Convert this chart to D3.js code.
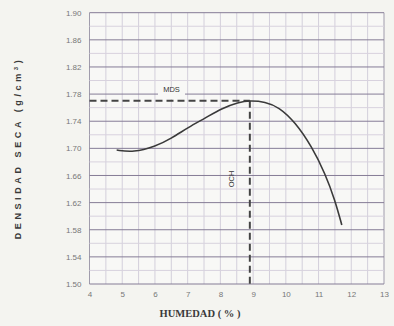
<!DOCTYPE html>
<html><head><meta charset="utf-8">
<script src="https://cdn.jsdelivr.net/npm/d3@7"></script>
<style>body{margin:0;background:#f4f4f0;}svg{display:block;}</style>
</head><body>
<svg id="c" width="394" height="326"></svg>
<script>
const humedad = [4.83, 5.34, 6.0, 6.51, 7.02, 7.53, 8.04, 8.55, 8.9, 9.37, 9.78, 10.28, 10.8, 11.2, 11.5, 11.71];
const densidad = [1.6975, 1.694, 1.7024, 1.7148, 1.731, 1.7444, 1.759, 1.768, 1.7705, 1.7687, 1.761, 1.739, 1.702, 1.663, 1.624, 1.587];
const xTicks = [4,5,6,7,8,9,10,11,12,13];
const yTicks = [1.50,1.54,1.58,1.62,1.66,1.70,1.74,1.78,1.82,1.86,1.90];
const mds = 1.770, och = 8.9;

const svg = d3.select("#c");
const x = d3.scaleLinear().domain([4,13]).range([89.5,384]);
const y = d3.scaleLinear().domain([1.50,1.90]).range([284,12.7]);

svg.append("rect").attr("width",394).attr("height",326).attr("fill","#f4f4f0");
svg.append("rect").attr("x",x(4)).attr("y",y(1.9)).attr("width",x(13)-x(4)).attr("height",y(1.5)-y(1.9)).attr("fill","#f8f8f6");

const g = svg.append("g");
d3.range(4,13.01,0.5).forEach(v=>{
  g.append("line").attr("x1",x(v)).attr("x2",x(v)).attr("y1",y(1.9)).attr("y2",y(1.5))
   .attr("stroke", (v===4||v===13)?"#a09cac":"#d3cfdb").attr("stroke-width",1);
});
d3.range(1.52,1.90,0.04).forEach(v=>{
  g.append("line").attr("x1",x(4)).attr("x2",x(13)).attr("y1",y(v)).attr("y2",y(v))
   .attr("stroke","#d8d2de").attr("stroke-width",1);
});
yTicks.forEach(v=>{
  g.append("line").attr("x1",x(4)).attr("x2",x(13)).attr("y1",y(v)).attr("y2",y(v))
   .attr("stroke","#857c96").attr("stroke-width",1);
});

const yAxis = d3.axisLeft(y).tickValues(yTicks).tickFormat(d3.format(".2f")).tickSize(0).tickPadding(8);
const ya = svg.append("g").attr("transform",`translate(${x(4)},0)`).call(yAxis);
ya.select(".domain").remove();
ya.selectAll("text").attr("fill","#777").style("font-family","Liberation Sans, Arial").style("font-size","8px");
const xAxis = d3.axisBottom(x).tickValues(xTicks).tickFormat(d3.format("d")).tickSize(0).tickPadding(7);
const xa = svg.append("g").attr("transform",`translate(0,${y(1.5)})`).call(xAxis);
xa.select(".domain").remove();
xa.selectAll("text").attr("fill","#777").style("font-family","Liberation Sans, Arial").style("font-size","8px");

svg.append("rect").attr("x",158).attr("y",y(1.78)-6).attr("width",27).attr("height",11).attr("fill","#f8f8f6");
svg.append("text").attr("x",171.5).attr("y",y(1.78)-2.5).attr("text-anchor","middle")
  .attr("fill","#333").style("font-family","Liberation Sans, Arial").style("font-size","7.5px").text("MDS");

svg.append("line").attr("x1",x(4)).attr("x2",x(och)).attr("y1",y(mds)).attr("y2",y(mds))
  .attr("stroke","#444").attr("stroke-width",2).attr("stroke-dasharray","7,4");
svg.append("line").attr("x1",x(och)).attr("x2",x(och)).attr("y1",y(mds)).attr("y2",y(1.5))
  .attr("stroke","#444").attr("stroke-width",2).attr("stroke-dasharray","7,4");

svg.append("text").attr("transform",`translate(234,${179}) rotate(-90)`).attr("text-anchor","middle")
  .attr("fill","#333").style("font-family","Liberation Sans, Arial").style("font-size","7.5px").text("OCH");

const line = d3.line().x(d=>x(d[0])).y(d=>y(d[1])).curve(d3.curveBasis);
svg.append("path").datum(humedad.map((h,i)=>[h,densidad[i]])).attr("d",line)
  .attr("fill","none").attr("stroke","#3a3a3a").attr("stroke-width",1.6);

svg.append("text").attr("transform","translate(21,148) rotate(-90)").attr("text-anchor","middle")
  .attr("fill","#3a3a3a").style("font-family","Liberation Sans, Arial").style("font-weight","bold")
  .style("font-size","9px").style("letter-spacing","3.6px")
  .html('DENSIDAD SECA  (g/cm<tspan baseline-shift="super" font-size="6px">3</tspan>)');
svg.append("text").attr("x",200).attr("y",317).attr("text-anchor","middle")
  .attr("fill","#3a3a3a").style("font-family","Liberation Serif, Times New Roman").style("font-weight","bold")
  .style("font-size","10.5px").text("HUMEDAD ( % )");
</script>
</body></html>
